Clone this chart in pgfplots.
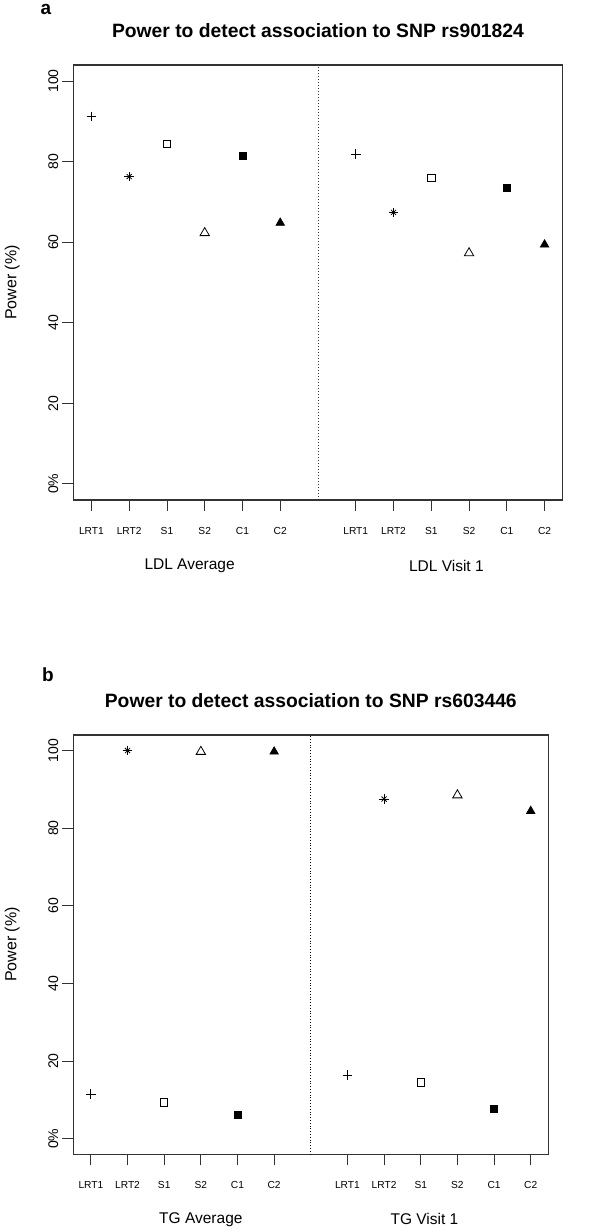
\documentclass[border=0pt]{standalone}
\usepackage{pgfplots}
\pgfplotsset{compat=1.18}
\usepackage{fontspec}
\setmainfont{Liberation Sans}
\usetikzlibrary{plotmarks}
\definecolor{axgray}{HTML}{333333}
\pgfplotsset{
 myaxis/.style={
  scale only axis, clip=false,
  xmin=0.52, xmax=13.48, ymin=-4, ymax=104,
  axis line style={draw=axgray, line width=1.1pt},
  tick align=outside, major tick length=11pt,
  xtick pos=left, ytick pos=left,
  every tick/.style={axgray, line width=0.9pt},
  xtick={1,2,3,4,5,6,8,9,10,11,12,13},
  xticklabels={LRT1,LRT2,S1,S2,C1,C2,LRT1,LRT2,S1,S2,C1,C2},
  ytick={0,20,40,60,80,100},
  yticklabels={0\%,20,40,60,80,100},
  /pgf/number format/assume math mode=true,
  xticklabel style={font=\fontsize{10.2}{10}\selectfont, inner sep=0pt, anchor=center, yshift=-20pt},
  yticklabel style={font=\fontsize{14}{14}\selectfont, rotate=90, inner sep=0pt, anchor=center, yshift=9pt},
  ylabel={Power (\%)},
  ylabel style={font=\fontsize{16}{16}\selectfont, at={(axis description cs:0,0.5)}, anchor=center, rotate=0, yshift=61pt},
  title style={font=\bfseries\fontsize{19.3}{20}\selectfont, at={(axis description cs:0.5,1)}, anchor=center, yshift=28pt},
  mk/.style={only marks, black, line width=0.8pt},
 }
}
\begin{document}
\begin{tikzpicture}
\path[use as bounding box] (0,0) rectangle (600pt,1231pt);
\node[font=\bfseries\fontsize{19}{19}\selectfont] at (46pt,1222pt) {a};
\node[font=\bfseries\fontsize{19}{19}\selectfont] at (48pt,556pt) {b};
% Panel a
\begin{axis}[myaxis, at={(73.3pt,731pt)}, anchor=south west, width=489.4pt, height=435pt,
  title={Power to detect association to SNP rs901824}]
\addplot[axgray, line width=1pt, dotted, no marks] coordinates {(7,-4) (7,104)};
\addplot[mk, mark=+, mark size=4.8pt] coordinates {(1,91.2) (8,81.9)};
\addplot[mk, mark=+, mark size=4.8pt] coordinates {(2,76.3) (9,67.4)};
\addplot[mk, mark=x, mark size=3.6pt] coordinates {(2,76.3) (9,67.4)};
\addplot[mk, mark=square, mark size=3.7pt, mark options={fill=white}] coordinates {(3,84.4) (10,75.9)};
\addplot[mk, mark=triangle, mark size=5.4pt, mark options={fill=white}] coordinates {(4,62.3) (11,57.3)};
\addplot[mk, mark=square*, mark size=3.5pt] coordinates {(5,81.5) (12,73.6)};
\addplot[mk, mark=triangle*, mark size=4.8pt] coordinates {(6,64.8) (13,59.4)};
\node[font=\fontsize{15.5}{16}\selectfont] at (axis cs:3.6,-4) [yshift=-65.7pt] {LDL Average};
\node[font=\fontsize{15.5}{16}\selectfont] at (axis cs:10.4,-4) [yshift=-65.7pt] {LDL Visit 1};
\end{axis}
% Panel b
\begin{axis}[myaxis, at={(73.3pt,76.7pt)}, anchor=south west, width=475pt, height=419.3pt,
  title={Power to detect association to SNP rs603446}]
\addplot[black, line width=0.8pt, dotted, no marks] coordinates {(7,-4) (7,104)};
\addplot[mk, mark=+, mark size=4.8pt] coordinates {(1,11.5) (8,16.4)};
\addplot[mk, mark=+, mark size=4.8pt] coordinates {(2,100) (9,87.5)};
\addplot[mk, mark=x, mark size=3.6pt] coordinates {(2,100) (9,87.5)};
\addplot[mk, mark=square, mark size=3.7pt, mark options={fill=white}] coordinates {(3,9.4) (10,14.5)};
\addplot[mk, mark=triangle, mark size=5.4pt, mark options={fill=white}] coordinates {(4,99.7) (11,88.5)};
\addplot[mk, mark=square*, mark size=3.5pt] coordinates {(5,6.2) (12,7.7)};
\addplot[mk, mark=triangle*, mark size=4.8pt] coordinates {(6,99.7) (13,84.4)};
\node[font=\fontsize{15.5}{16}\selectfont] at (axis cs:4.0,-4) [yshift=-65pt] {TG Average};
\node[font=\fontsize{15.5}{16}\selectfont] at (axis cs:10.1,-4) [yshift=-65pt] {TG Visit 1};
\end{axis}
\end{tikzpicture}
\end{document}
